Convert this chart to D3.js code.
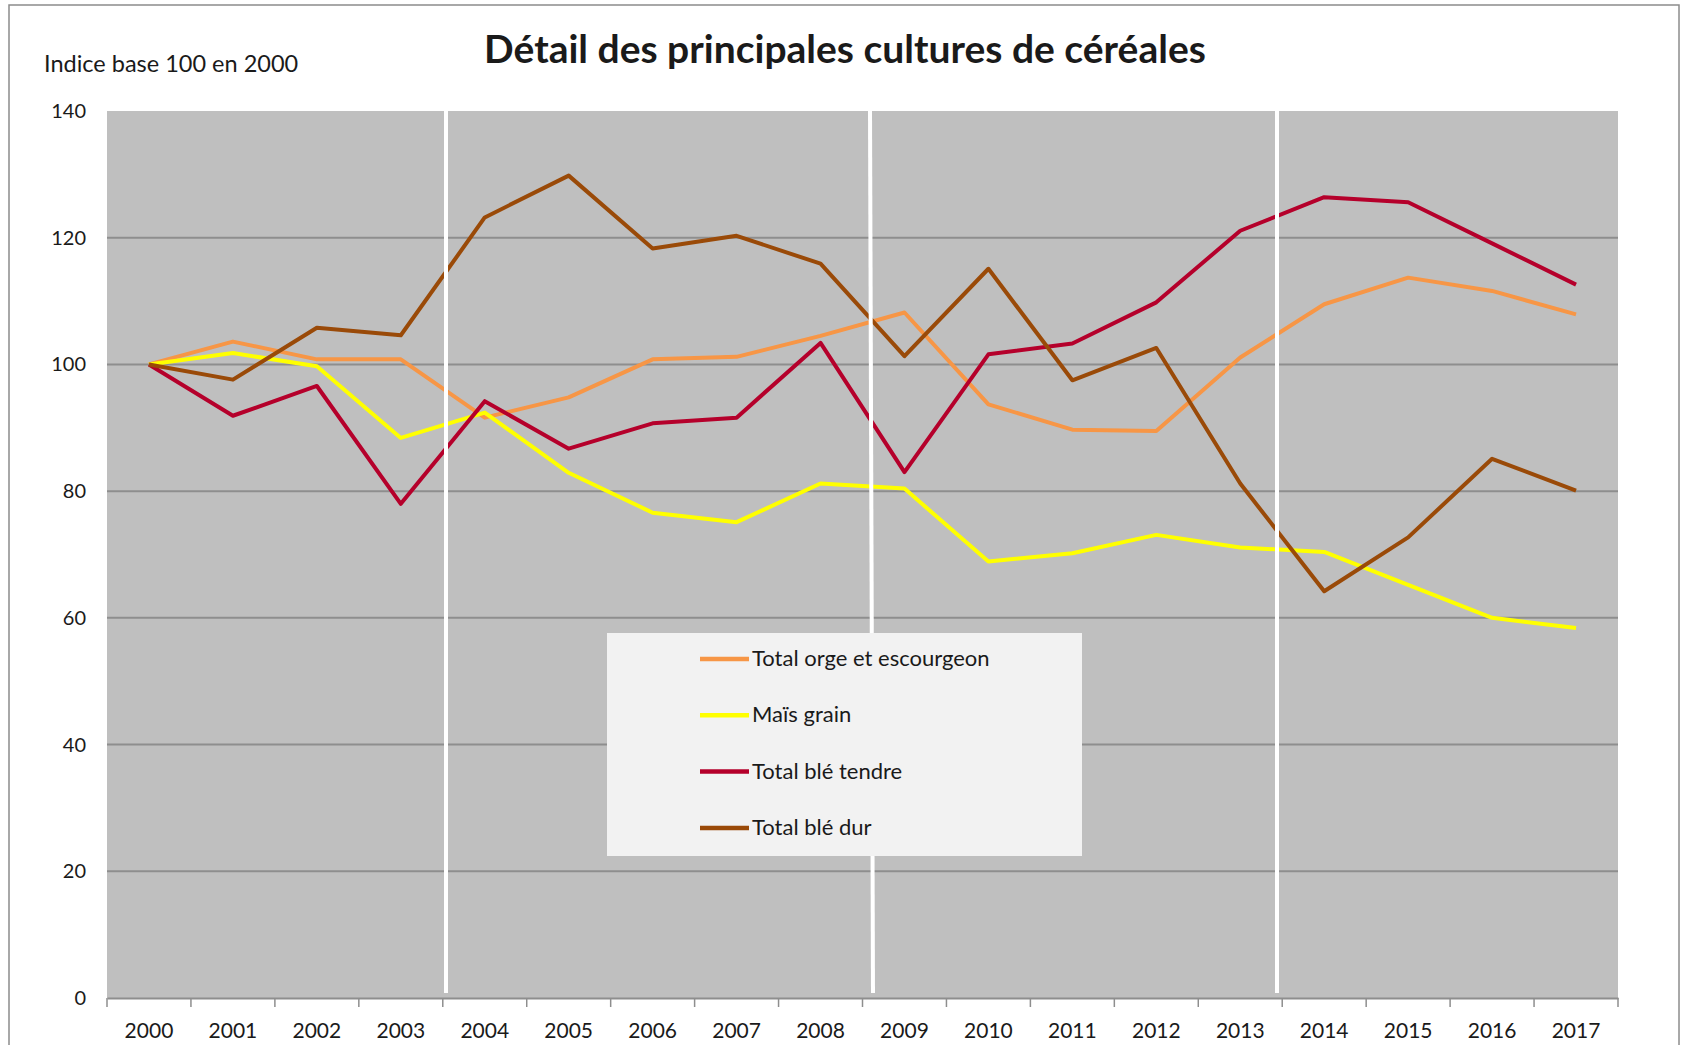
<!DOCTYPE html>
<html>
    <head>
        <meta charset="utf-8" />
        <title>Détail des principales cultures de céréales</title>
        <script src="https://d3js.org/d3.v7.min.js"></script>
        <style>
            body { margin: 0; background: white; }
            text { font-family: Lato, "Open Sans", sans-serif; fill: #1a1a1a; }
        </style>
    </head>

    <body>
        <svg width="1684" height="1045" id="chart"></svg>

        <script>

            // data arrays
            var years = ["2000", "2001", "2002", "2003", "2004", "2005", "2006", "2007", "2008",
                "2009", "2010", "2011", "2012", "2013", "2014", "2015", "2016", "2017"];

            var orge = [100, 103.6, 100.8, 100.8, 91.6, 94.8, 100.8, 101.2, 104.5,
                108.2, 93.7, 89.7, 89.5, 101.1, 109.5, 113.7, 111.6, 107.9];

            var mais = [100, 101.8, 99.7, 88.4, 92.4, 82.9, 76.6, 75.1, 81.2,
                80.4, 68.9, 70.2, 73.1, 71.1, 70.4, 65.2, 60.0, 58.4];

            var bleTendre = [100, 91.9, 96.6, 78.0, 94.2, 86.7, 90.7, 91.6, 103.4,
                83.0, 101.6, 103.3, 109.8, 121.1, 126.4, 125.6, 119.1, 112.6];

            var bleDur = [100, 97.6, 105.8, 104.6, 123.2, 129.8, 118.3, 120.3, 115.9,
                101.3, 115.1, 97.5, 102.6, 81.2, 64.2, 72.7, 85.1, 80.1];

            var seriesNames = ["Total orge et escourgeon", "Maïs grain", "Total blé tendre", "Total blé dur"];
            var seriesColors = ["#f79646", "#ffff00", "#b5002b", "#9a4a08"];
            var seriesValues = [orge, mais, bleTendre, bleDur];

            var yTicks = [0, 20, 40, 60, 80, 100, 120, 140];

            var svg = d3.select("#chart");

            // outer frame
            svg.append("rect")
                .attr("x", 9).attr("y", 5)
                .attr("width", 1670).attr("height", 1060)
                .attr("fill", "white")
                .attr("stroke", "#8c8c8c")
                .attr("stroke-width", 1.5);

            var plotLeft = 107, plotRight = 1618, plotTop = 111, plotBottom = 998;

            var x = d3.scaleBand().domain(years).range([plotLeft, plotRight]);
            var y = d3.scaleLinear().domain([0, 140]).range([plotBottom, plotTop]);

            // plot background
            svg.append("rect")
                .attr("x", plotLeft).attr("y", plotTop)
                .attr("width", plotRight - plotLeft).attr("height", plotBottom - plotTop)
                .attr("fill", "#bfbfbf");

            // gridlines
            svg.selectAll(".grid")
                .data(yTicks.slice(1, -1))
                .enter().append("line")
                .attr("class", "grid")
                .attr("x1", plotLeft).attr("x2", plotRight)
                .attr("y1", function(d) { return y(d); })
                .attr("y2", function(d) { return y(d); })
                .attr("stroke", "#8e8e8e")
                .attr("stroke-width", 2);

            // y axis labels
            svg.selectAll(".ylab")
                .data(yTicks)
                .enter().append("text")
                .attr("class", "ylab")
                .attr("x", 86)
                .attr("y", function(d) { return y(d) + 7; })
                .attr("text-anchor", "end")
                .style("font-size", "20px")
                .text(function(d) { return d; });

            // x axis
            var xAxis = d3.axisBottom(x).tickSize(0).tickPadding(25);
            var gx = svg.append("g")
                .attr("transform", "translate(0," + plotBottom + ")")
                .call(xAxis);
            gx.select(".domain").attr("stroke", "#8e8e8e").attr("stroke-width", 2);
            gx.selectAll("text")
                .style("font-family", "Lato, sans-serif")
                .style("font-size", "21px")
                .attr("fill", "#1a1a1a");

            // tick marks between categories
            var bounds = years.map(function(d) { return x(d); }).concat([plotRight]);
            svg.selectAll(".xtick")
                .data(bounds)
                .enter().append("line")
                .attr("class", "xtick")
                .attr("x1", function(d) { return d; })
                .attr("x2", function(d) { return d; })
                .attr("y1", plotBottom).attr("y2", plotBottom + 9)
                .attr("stroke", "#8e8e8e")
                .attr("stroke-width", 1.5);

            // lines
            var line = d3.line()
                .x(function(d, i) { return x(years[i]) + x.bandwidth() / 2; })
                .y(function(d) { return y(d); });

            svg.selectAll(".serie")
                .data(seriesValues)
                .enter().append("path")
                .attr("class", "serie")
                .attr("d", line)
                .attr("fill", "none")
                .attr("stroke", function(d, i) { return seriesColors[i]; })
                .attr("stroke-width", 4)
                .attr("stroke-linejoin", "round");

            // white page-fold lines of the scan
            var folds = [[446, 446], [870, 873], [1277, 1277]];
            svg.selectAll(".fold")
                .data(folds)
                .enter().append("line")
                .attr("class", "fold")
                .attr("x1", function(d) { return d[0]; })
                .attr("x2", function(d) { return d[1]; })
                .attr("y1", plotTop).attr("y2", 993)
                .attr("stroke", "white")
                .attr("stroke-width", 4);

            // legend
            var lg = svg.append("g").attr("transform", "translate(607,633)");
            lg.append("rect")
                .attr("width", 475).attr("height", 223)
                .attr("fill", "#f2f2f2");

            var items = lg.selectAll(".item")
                .data(seriesNames)
                .enter().append("g")
                .attr("class", "item")
                .attr("transform", function(d, i) { return "translate(0," + (26 + i * 56.3) + ")"; });

            items.append("line")
                .attr("x1", 93).attr("x2", 142)
                .attr("stroke", function(d, i) { return seriesColors[i]; })
                .attr("stroke-width", 4.5);

            items.append("text")
                .attr("x", 145).attr("y", 7)
                .style("font-size", "22px")
                .text(function(d) { return d; });

            // titles
            svg.append("text")
                .attr("x", 845).attr("y", 63)
                .attr("text-anchor", "middle")
                .style("font-size", "39px")
                .style("font-weight", "bold")
                .attr("fill", "#000")
                .text("Détail des principales cultures de céréales");

            svg.append("text")
                .attr("x", 44).attr("y", 72)
                .style("font-size", "23.5px")
                .text("Indice base 100 en 2000");

        </script>
    </body>
</html>
